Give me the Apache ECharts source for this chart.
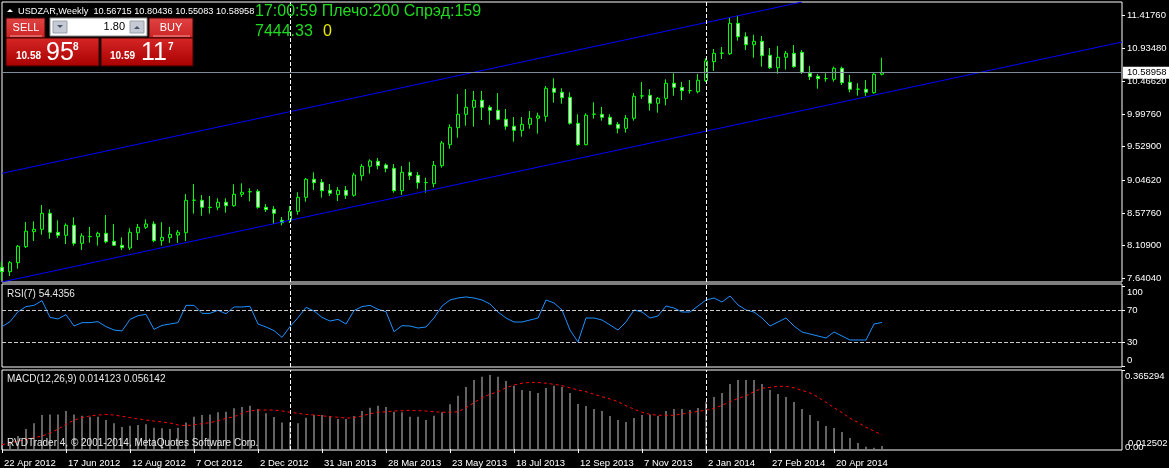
<!DOCTYPE html>
<html>
<head>
<meta charset="utf-8">
<script src="https://cdn.jsdelivr.net/npm/echarts@6/dist/echarts.min.js"></script>
<style>
  html, body { margin: 0; padding: 0; background: #000; }
  #chart { width: 1169px; height: 468px; }
</style>
</head>
<body>
<div id="chart"></div>
<script>
"use strict";

const FONT = '"Liberation Sans", Arial, sans-serif';

// weekly USDZAR bars, oldest first
const opens = [
  7.798, 7.735, 7.864, 8.094, 8.309, 8.343, 8.573, 8.300, 8.257, 8.401,
  8.142, 8.237, 8.237, 8.286, 8.171, 8.114, 8.075, 8.294, 8.372, 8.419,
  8.180, 8.223, 8.261, 8.294, 8.759, 8.759, 8.659, 8.659, 8.731, 8.682,
  8.845, 8.880, 8.888, 8.659, 8.630, 8.472, 8.472, 8.601, 8.802, 9.061,
  9.018, 8.903, 8.840, 8.903, 8.831, 9.112, 9.247, 9.319, 9.266, 9.218,
  8.897, 9.161, 9.118, 9.012, 8.998, 9.256, 9.557, 9.801, 9.993, 10.093,
  10.194, 10.093, 10.050, 9.921, 9.821, 9.763, 9.849, 9.936, 9.964, 10.366,
  10.309, 10.237, 9.864, 9.557, 9.993, 9.993, 9.950, 9.849, 9.792, 9.936,
  10.255, 10.265, 10.151, 10.222, 10.438, 10.380, 10.331, 10.317, 10.475, 10.748,
  10.868, 10.862, 11.298, 11.106, 10.991, 11.040, 10.839, 10.661, 10.811, 10.868,
  10.882, 10.581, 10.538, 10.504, 10.495, 10.653, 10.452, 10.352, 10.352, 10.303,
  10.56715
];
const closes = [
  7.735, 7.864, 8.099, 8.315, 8.343, 8.573, 8.300, 8.257, 8.401, 8.142,
  8.247, 8.240, 8.286, 8.165, 8.114, 8.079, 8.300, 8.372, 8.419, 8.180,
  8.228, 8.271, 8.300, 8.759, 8.762, 8.659, 8.656, 8.731, 8.682, 8.845,
  8.874, 8.884, 8.659, 8.625, 8.573, 8.438, 8.601, 8.802, 9.061, 9.012,
  8.897, 8.860, 8.903, 8.831, 9.122, 9.247, 9.323, 9.256, 9.218, 8.897,
  9.161, 9.112, 9.012, 9.015, 9.261, 9.581, 9.806, 9.993, 10.093, 10.194,
  10.093, 10.050, 9.921, 9.821, 9.763, 9.849, 9.936, 9.969, 10.366, 10.309,
  10.231, 9.864, 9.557, 9.979, 9.996, 9.950, 9.849, 9.792, 9.936, 10.251,
  10.258, 10.151, 10.222, 10.438, 10.380, 10.331, 10.334, 10.481, 10.758, 10.868,
  10.871, 11.298, 11.106, 10.991, 11.040, 10.834, 10.661, 10.811, 10.868, 10.676,
  10.595, 10.532, 10.504, 10.507, 10.653, 10.446, 10.352, 10.355, 10.309, 10.567,
  10.58958
];
const lows = [
  7.616, 7.673, 7.778, 8.075, 8.176, 8.266, 8.208, 8.218, 8.132, 8.108,
  8.046, 8.151, 8.108, 8.142, 8.108, 8.046, 8.046, 8.190, 8.348, 8.157,
  8.108, 8.147, 8.147, 8.176, 8.567, 8.538, 8.567, 8.616, 8.582, 8.667,
  8.807, 8.745, 8.639, 8.591, 8.419, 8.401, 8.434, 8.553, 8.739, 8.907,
  8.797, 8.821, 8.749, 8.778, 8.811, 9.040, 9.141, 9.204, 9.161, 8.868,
  8.835, 9.050, 8.926, 8.868, 8.946, 9.227, 9.499, 9.657, 9.829, 9.815,
  9.911, 9.844, 9.907, 9.772, 9.600, 9.672, 9.786, 9.715, 9.887, 10.159,
  10.145, 9.844, 9.542, 9.548, 9.930, 9.901, 9.835, 9.720, 9.729, 9.901,
  10.212, 10.045, 10.016, 10.122, 10.260, 10.198, 10.289, 10.294, 10.456, 10.614,
  10.786, 10.844, 11.049, 10.915, 10.805, 10.676, 10.643, 10.575, 10.633, 10.661,
  10.571, 10.485, 10.360, 10.461, 10.461, 10.413, 10.308, 10.260, 10.256, 10.289,
  10.55083
];
const highs = [
  7.879, 7.889, 8.118, 8.448, 8.458, 8.692, 8.630, 8.472, 8.429, 8.515,
  8.286, 8.376, 8.309, 8.548, 8.419, 8.228, 8.358, 8.419, 8.487, 8.458,
  8.444, 8.376, 8.333, 8.850, 8.993, 8.835, 8.821, 8.788, 8.788, 8.989,
  9.003, 8.931, 8.917, 8.706, 8.677, 8.520, 8.677, 8.874, 9.079, 9.161,
  9.065, 8.993, 8.950, 8.964, 9.155, 9.280, 9.347, 9.366, 9.290, 9.280,
  9.251, 9.309, 9.165, 9.084, 9.323, 9.610, 9.849, 10.284, 10.356, 10.327,
  10.327, 10.122, 10.298, 10.069, 9.954, 9.954, 10.040, 10.016, 10.399, 10.509,
  10.366, 10.309, 9.993, 10.007, 10.165, 10.098, 9.993, 9.882, 9.983, 10.298,
  10.456, 10.352, 10.241, 10.495, 10.581, 10.456, 10.485, 10.571, 10.796, 10.930,
  10.958, 11.379, 11.407, 11.169, 11.135, 11.116, 10.944, 10.973, 10.901, 10.987,
  10.915, 10.686, 10.571, 10.581, 10.676, 10.676, 10.557, 10.438, 10.485, 10.590,
  10.80436
];

const rsiValues = [
  49.2, 55.4, 67.9, 74.2, 75.8, 81.7, 60.8, 58.8, 64.2, 50.0,
  54.2, 54.2, 55.4, 49.2, 45.0, 43.8, 58.3, 62.9, 64.6, 45.8,
  50.8, 52.5, 54.2, 75.8, 75.8, 65.8, 65.8, 69.6, 65.4, 73.8,
  73.8, 74.6, 52.5, 48.8, 44.2, 35.8, 49.2, 60.4, 73.3, 68.8,
  60.8, 56.2, 58.3, 52.5, 69.2, 74.2, 75.8, 70.8, 67.9, 42.9,
  50.4, 50.0, 47.5, 48.8, 60.0, 75.0, 82.5, 85.0, 86.3, 85.0,
  82.5, 77.5, 67.5, 60.0, 55.0, 55.0, 57.5, 60.0, 82.5, 78.8,
  70.0, 45.0, 30.0, 60.0, 60.0, 57.5, 51.3, 45.0, 55.0, 70.0,
  67.5, 60.0, 62.5, 75.0, 72.5, 67.5, 67.5, 75.0, 82.5, 85.0,
  80.0, 87.5, 76.3, 70.0, 67.5, 60.0, 50.0, 55.0, 60.0, 50.0,
  42.5, 40.0, 37.5, 35.0, 42.5, 37.5, 32.5, 32.5, 32.5, 52.5,
  54.4356
];

const macdValues = [
  0.020, 0.035, 0.060, 0.092, 0.119, 0.157, 0.160, 0.160, 0.176, 0.160,
  0.154, 0.149, 0.149, 0.134, 0.119, 0.102, 0.108, 0.111, 0.114, 0.098,
  0.096, 0.092, 0.098, 0.123, 0.149, 0.157, 0.160, 0.170, 0.172, 0.188,
  0.194, 0.200, 0.185, 0.165, 0.148, 0.123, 0.123, 0.119, 0.145, 0.157,
  0.157, 0.153, 0.139, 0.139, 0.153, 0.176, 0.191, 0.200, 0.194, 0.172,
  0.170, 0.149, 0.149, 0.134, 0.154, 0.170, 0.207, 0.246, 0.287, 0.319,
  0.334, 0.342, 0.334, 0.314, 0.293, 0.273, 0.268, 0.259, 0.282, 0.293,
  0.288, 0.259, 0.208, 0.199, 0.185, 0.176, 0.153, 0.134, 0.125, 0.143,
  0.157, 0.160, 0.153, 0.176, 0.185, 0.185, 0.180, 0.190, 0.219, 0.240,
  0.259, 0.301, 0.319, 0.319, 0.319, 0.301, 0.273, 0.254, 0.240, 0.217,
  0.185, 0.157, 0.129, 0.106, 0.097, 0.079, 0.051, 0.028, 0.010, 0.006,
  0.014123
];
const signalValues = [
  0.020, 0.028, 0.036, 0.044, 0.052, 0.060, 0.073, 0.092, 0.114, 0.133,
  0.145, 0.153, 0.157, 0.160, 0.157, 0.151, 0.145, 0.139, 0.134, 0.129,
  0.125, 0.120, 0.111, 0.108, 0.112, 0.117, 0.122, 0.131, 0.142, 0.149,
  0.165, 0.177, 0.180, 0.180, 0.180, 0.176, 0.170, 0.165, 0.160, 0.157,
  0.154, 0.149, 0.147, 0.143, 0.145, 0.153, 0.163, 0.170, 0.172, 0.176,
  0.177, 0.179, 0.177, 0.176, 0.172, 0.170, 0.170, 0.172, 0.191, 0.214,
  0.237, 0.253, 0.265, 0.283, 0.296, 0.304, 0.308, 0.308, 0.304, 0.299,
  0.293, 0.283, 0.273, 0.265, 0.253, 0.242, 0.231, 0.219, 0.200, 0.184,
  0.170, 0.160, 0.156, 0.156, 0.156, 0.162, 0.168, 0.174, 0.179, 0.188,
  0.202, 0.219, 0.234, 0.246, 0.265, 0.281, 0.285, 0.290, 0.290, 0.283,
  0.271, 0.259, 0.240, 0.216, 0.191, 0.168, 0.142, 0.123, 0.100, 0.083,
  0.065
];

const dateLabels = [
  "22 Apr 2012", "17 Jun 2012", "12 Aug 2012", "7 Oct 2012", "2 Dec 2012",
  "31 Jan 2013", "28 Mar 2013", "23 May 2013", "18 Jul 2013", "12 Sep 2013",
  "7 Nov 2013", "2 Jan 2014", "27 Feb 2014", "20 Apr 2014"
];
const labelStep = 8;
const slotCount = 141; // bars plus empty space on the right

const priceTicks = [7.6404, 8.109, 8.5776, 9.0462, 9.529, 9.9976, 10.4662, 10.9348, 11.4176];
const rsiTicks = [0, 30, 70, 100];
const rsiLevels = [30, 70];
const macdTicks = [0, 0.365294];
const macdMin = 0.012502;

// channel anchor points [bar index, price]
const channelUpper = [[0, 9.146], [100, 11.604]];
const channelLower = [[0, 7.587], [140, 11.030]];

const lastPrice = 10.58958;
const separators = [36, 88];

const header = "USDZAR,Weekly  10.56715 10.80436 10.55083 10.58958";

const chart = echarts.init(document.getElementById("chart"), null, { renderer: "canvas" });

const slots = Array.from({ length: slotCount }, (_, i) => String(i));
const hasLabel = (i) => i % labelStep === 0 && i / labelStep < dateLabels.length;
const candles = opens.map((o, i) => [o, closes[i], lows[i], highs[i]]);

const sepLines = separators.map((x) => ({
  xAxis: x,
  lineStyle: { color: "#fff", type: [4, 2], width: 1 },
}));

const gridBase = {
  left: 2,
  right: 47,
  show: true,
  borderColor: "#fff",
  borderWidth: 1,
  backgroundColor: "transparent",
  containLabel: false,
  outerBoundsMode: "none",
};

const hiddenX = (gridIndex) => ({
  type: "category",
  gridIndex,
  data: slots,
  boundaryGap: false,
  axisLine: { show: false },
  axisTick: { show: false },
  axisLabel: { show: false },
  splitLine: { show: false },
});

const labelStyle = {
  color: "#fff",
  fontSize: 9.5,
  fontFamily: FONT,
  hideOverlap: false,
  showMinLabel: true,
  showMaxLabel: true,
};
const tickStyle = { show: true, length: 3, lineStyle: { color: "#fff" } };

const redGrad = (a, b) => new echarts.graphic.LinearGradient(0, 0, 0, 1, [
  { offset: 0, color: a },
  { offset: 1, color: b },
]);

const txt = (x, y, text, fill, font, align) => ({
  type: "text",
  x, y, z: 100,
  style: { text, fill, font, align: align || "left", verticalAlign: "middle" },
});

const graphic = [
  { type: "polygon", z: 100, shape: { points: [[7, 12], [13, 12], [10, 9]] }, style: { fill: "#fff" } },
  txt(18, 11, header, "#fff", "9.2px " + FONT),
  txt(255, 12, "17:00:59 Плечо:200 Спрэд:159", "#1fdc1f", "16px " + FONT),
  txt(255, 32, "7444.33", "#1fdc1f", "16px " + FONT),
  txt(323, 32, "0", "#e8e800", "16px " + FONT),

  // one-click trading panel
  { type: "rect", z: 100, shape: { x: 6, y: 18, width: 39, height: 20 }, style: { fill: redGrad("#e04444", "#cc2222"), stroke: "#3a0000" } },
  { type: "rect", z: 100, shape: { x: 149, y: 18, width: 44, height: 20 }, style: { fill: redGrad("#e04444", "#cc2222"), stroke: "#3a0000" } },
  { type: "line", z: 101, shape: { x1: 10, y1: 36, x2: 42, y2: 36 }, style: { stroke: "#f09a9a" } },
  { type: "line", z: 101, shape: { x1: 153, y1: 36, x2: 190, y2: 36 }, style: { stroke: "#f09a9a" } },
  txt(26, 28, "SELL", "#fff", "11px " + FONT, "center"),
  txt(171, 28, "BUY", "#fff", "11px " + FONT, "center"),
  { type: "rect", z: 100, shape: { x: 50, y: 18, width: 97, height: 18 }, style: { fill: "#fff", stroke: "#8c8c8c" } },
  { type: "rect", z: 101, shape: { x: 53, y: 21, width: 14, height: 12 }, style: { fill: "#c6cad4", stroke: "#9aa0ab" } },
  { type: "rect", z: 101, shape: { x: 130, y: 21, width: 14, height: 12 }, style: { fill: "#c6cad4", stroke: "#9aa0ab" } },
  { type: "polygon", z: 102, shape: { points: [[57, 25], [63, 25], [60, 28]] }, style: { fill: "#4a5468" } },
  { type: "polygon", z: 102, shape: { points: [[134, 29], [140, 29], [137, 26]] }, style: { fill: "#4a5468" } },
  txt(125, 27, "1.80", "#000", "11px " + FONT, "right"),
  { type: "rect", z: 100, shape: { x: 6, y: 38, width: 93, height: 28 }, style: { fill: redGrad("#d62626", "#a80000"), stroke: "#3a0000" } },
  { type: "rect", z: 100, shape: { x: 101, y: 38, width: 92, height: 28 }, style: { fill: redGrad("#d62626", "#a80000"), stroke: "#3a0000" } },
  txt(16, 56, "10.58", "#fff", "bold 10px " + FONT),
  txt(46, 53, "95", "#fff", "25px " + FONT),
  txt(73, 47, "8", "#fff", "bold 10px " + FONT),
  txt(110, 56, "10.59", "#fff", "bold 10px " + FONT),
  txt(141, 53, "11", "#fff", "25px " + FONT),
  txt(168, 47, "7", "#fff", "bold 10px " + FONT),

  txt(7, 294, "RSI(7) 54.4356", "#e8e8e8", "10px " + FONT),
  txt(7, 379, "MACD(12,26,9) 0.014123 0.056142", "#e8e8e8", "10px " + FONT),
  txt(7, 443, "RVDTrader 4, © 2001-2014, MetaQuotes Software Corp.", "#e8e8e8", "10px " + FONT),
];

const option = {
  backgroundColor: "#000",
  animation: false,
  textStyle: { fontFamily: FONT },
  grid: [
    { ...gridBase, top: 2, height: 280 },
    { ...gridBase, top: 284, height: 83 },
    { ...gridBase, top: 370, height: 80 },
  ],
  xAxis: [
    hiddenX(0),
    hiddenX(1),
    {
      ...hiddenX(2),
      axisTick: {
        show: true,
        length: 4,
        interval: (i) => hasLabel(i),
        lineStyle: { color: "#fff" },
      },
      axisLabel: {
        ...labelStyle,
        show: true,
        interval: 0,
        align: "left",
        margin: 8,
        padding: [0, 0, 0, 2],
        formatter: (v, i) => (hasLabel(i) ? dateLabels[i / labelStep] : ""),
      },
    },
  ],
  yAxis: [
    {
      type: "value",
      gridIndex: 0,
      position: "right",
      min: 7.587,
      max: 11.604,
      splitLine: { show: false },
      axisLine: { show: false },
      axisTick: { ...tickStyle, customValues: priceTicks },
      axisLabel: { ...labelStyle, margin: 5, customValues: priceTicks, formatter: (v) => v.toFixed(5) },
    },
    {
      type: "value",
      gridIndex: 1,
      position: "right",
      min: -1.25,
      max: 102.5,
      splitLine: { show: false },
      axisLine: { show: false },
      axisTick: { ...tickStyle, customValues: rsiTicks },
      axisLabel: {
        ...labelStyle,
        margin: 5,
        customValues: rsiTicks,
        formatter: (v) => (v === 100 ? "{a|100}" : v === 0 ? "{b|0}" : String(v)),
        rich: { a: { padding: [12, 0, 0, 0] }, b: { padding: [0, 0, 12, 0] } },
      },
    },
    {
      type: "value",
      gridIndex: 2,
      position: "right",
      min: -0.0046,
      max: 0.3653,
      splitLine: { show: false },
      axisLine: { show: false },
      axisTick: { ...tickStyle, customValues: [0.365294] },
      axisLabel: {
        ...labelStyle,
        margin: 3,
        customValues: macdTicks,
        formatter: (v) => (v === 0 ? "{b|0.00}" : "{a|0.365294}"),
        rich: {
          a: { padding: [13, 0, 0, 0] },
          b: { padding: [0, 0, 4, 0] },
        },
      },
    },
  ],
  series: [
    {
      type: "candlestick",
      xAxisIndex: 0,
      yAxisIndex: 0,
      data: candles,
      barWidth: 4,
      itemStyle: {
        color: "#000",
        color0: "#fff",
        borderColor: "#00ff00",
        borderColor0: "#00ff00",
        borderWidth: 1,
      },
      markLine: {
        silent: true,
        symbol: ["none", "none"],
        data: [
          {
            yAxis: lastPrice,
            lineStyle: { color: "#7d8b9a", type: "solid", width: 1 },
            label: {
              show: true,
              position: "end",
              distance: 1,
              formatter: lastPrice.toFixed(5),
              backgroundColor: "#fff",
              color: "#000",
              fontSize: 9.5,
              fontFamily: FONT,
              padding: [1, 3, 1, 4],
            },
          },
          ...sepLines.map((l) => ({ ...l, label: { show: false } })),
        ],
      },
    },
    {
      type: "line",
      xAxisIndex: 0,
      yAxisIndex: 0,
      data: channelUpper,
      showSymbol: false,
      lineStyle: { color: "#0000ff", width: 1 },
    },
    {
      type: "line",
      xAxisIndex: 0,
      yAxisIndex: 0,
      data: channelLower,
      showSymbol: false,
      lineStyle: { color: "#0000ff", width: 1 },
    },
    {
      type: "line",
      xAxisIndex: 1,
      yAxisIndex: 1,
      data: rsiValues,
      showSymbol: false,
      lineStyle: { color: "#1e90ff", width: 1 },
      markLine: {
        silent: true,
        symbol: ["none", "none"],
        label: { show: false },
        data: [
          ...rsiLevels.map((v) => ({ yAxis: v, lineStyle: { color: "#c8c8c8", type: [4, 2], width: 1 } })),
          ...sepLines,
        ],
      },
    },
    {
      type: "bar",
      xAxisIndex: 2,
      yAxisIndex: 2,
      data: macdValues,
      barWidth: 1,
      itemStyle: { color: "#c8c8c8" },
      markLine: {
        silent: true,
        symbol: ["none", "none"],
        label: { show: false },
        data: [
          ...sepLines,
          {
            // window minimum, shown only as a label on the price scale
            yAxis: macdMin,
            lineStyle: { color: "rgba(0,0,0,0)", width: 1 },
            label: {
              show: true,
              position: "end",
              distance: 6,
              offset: [0, -3],
              formatter: macdMin.toFixed(6),
              color: "#fff",
              fontSize: 9.5,
              fontFamily: FONT,
            },
          },
        ],
      },
    },
    {
      type: "line",
      xAxisIndex: 2,
      yAxisIndex: 2,
      data: signalValues,
      showSymbol: false,
      lineStyle: { color: "#ff0000", width: 1, type: [3, 3] },
    },
  ],
  graphic,
};

chart.setOption(option);
</script>
</body>
</html>
